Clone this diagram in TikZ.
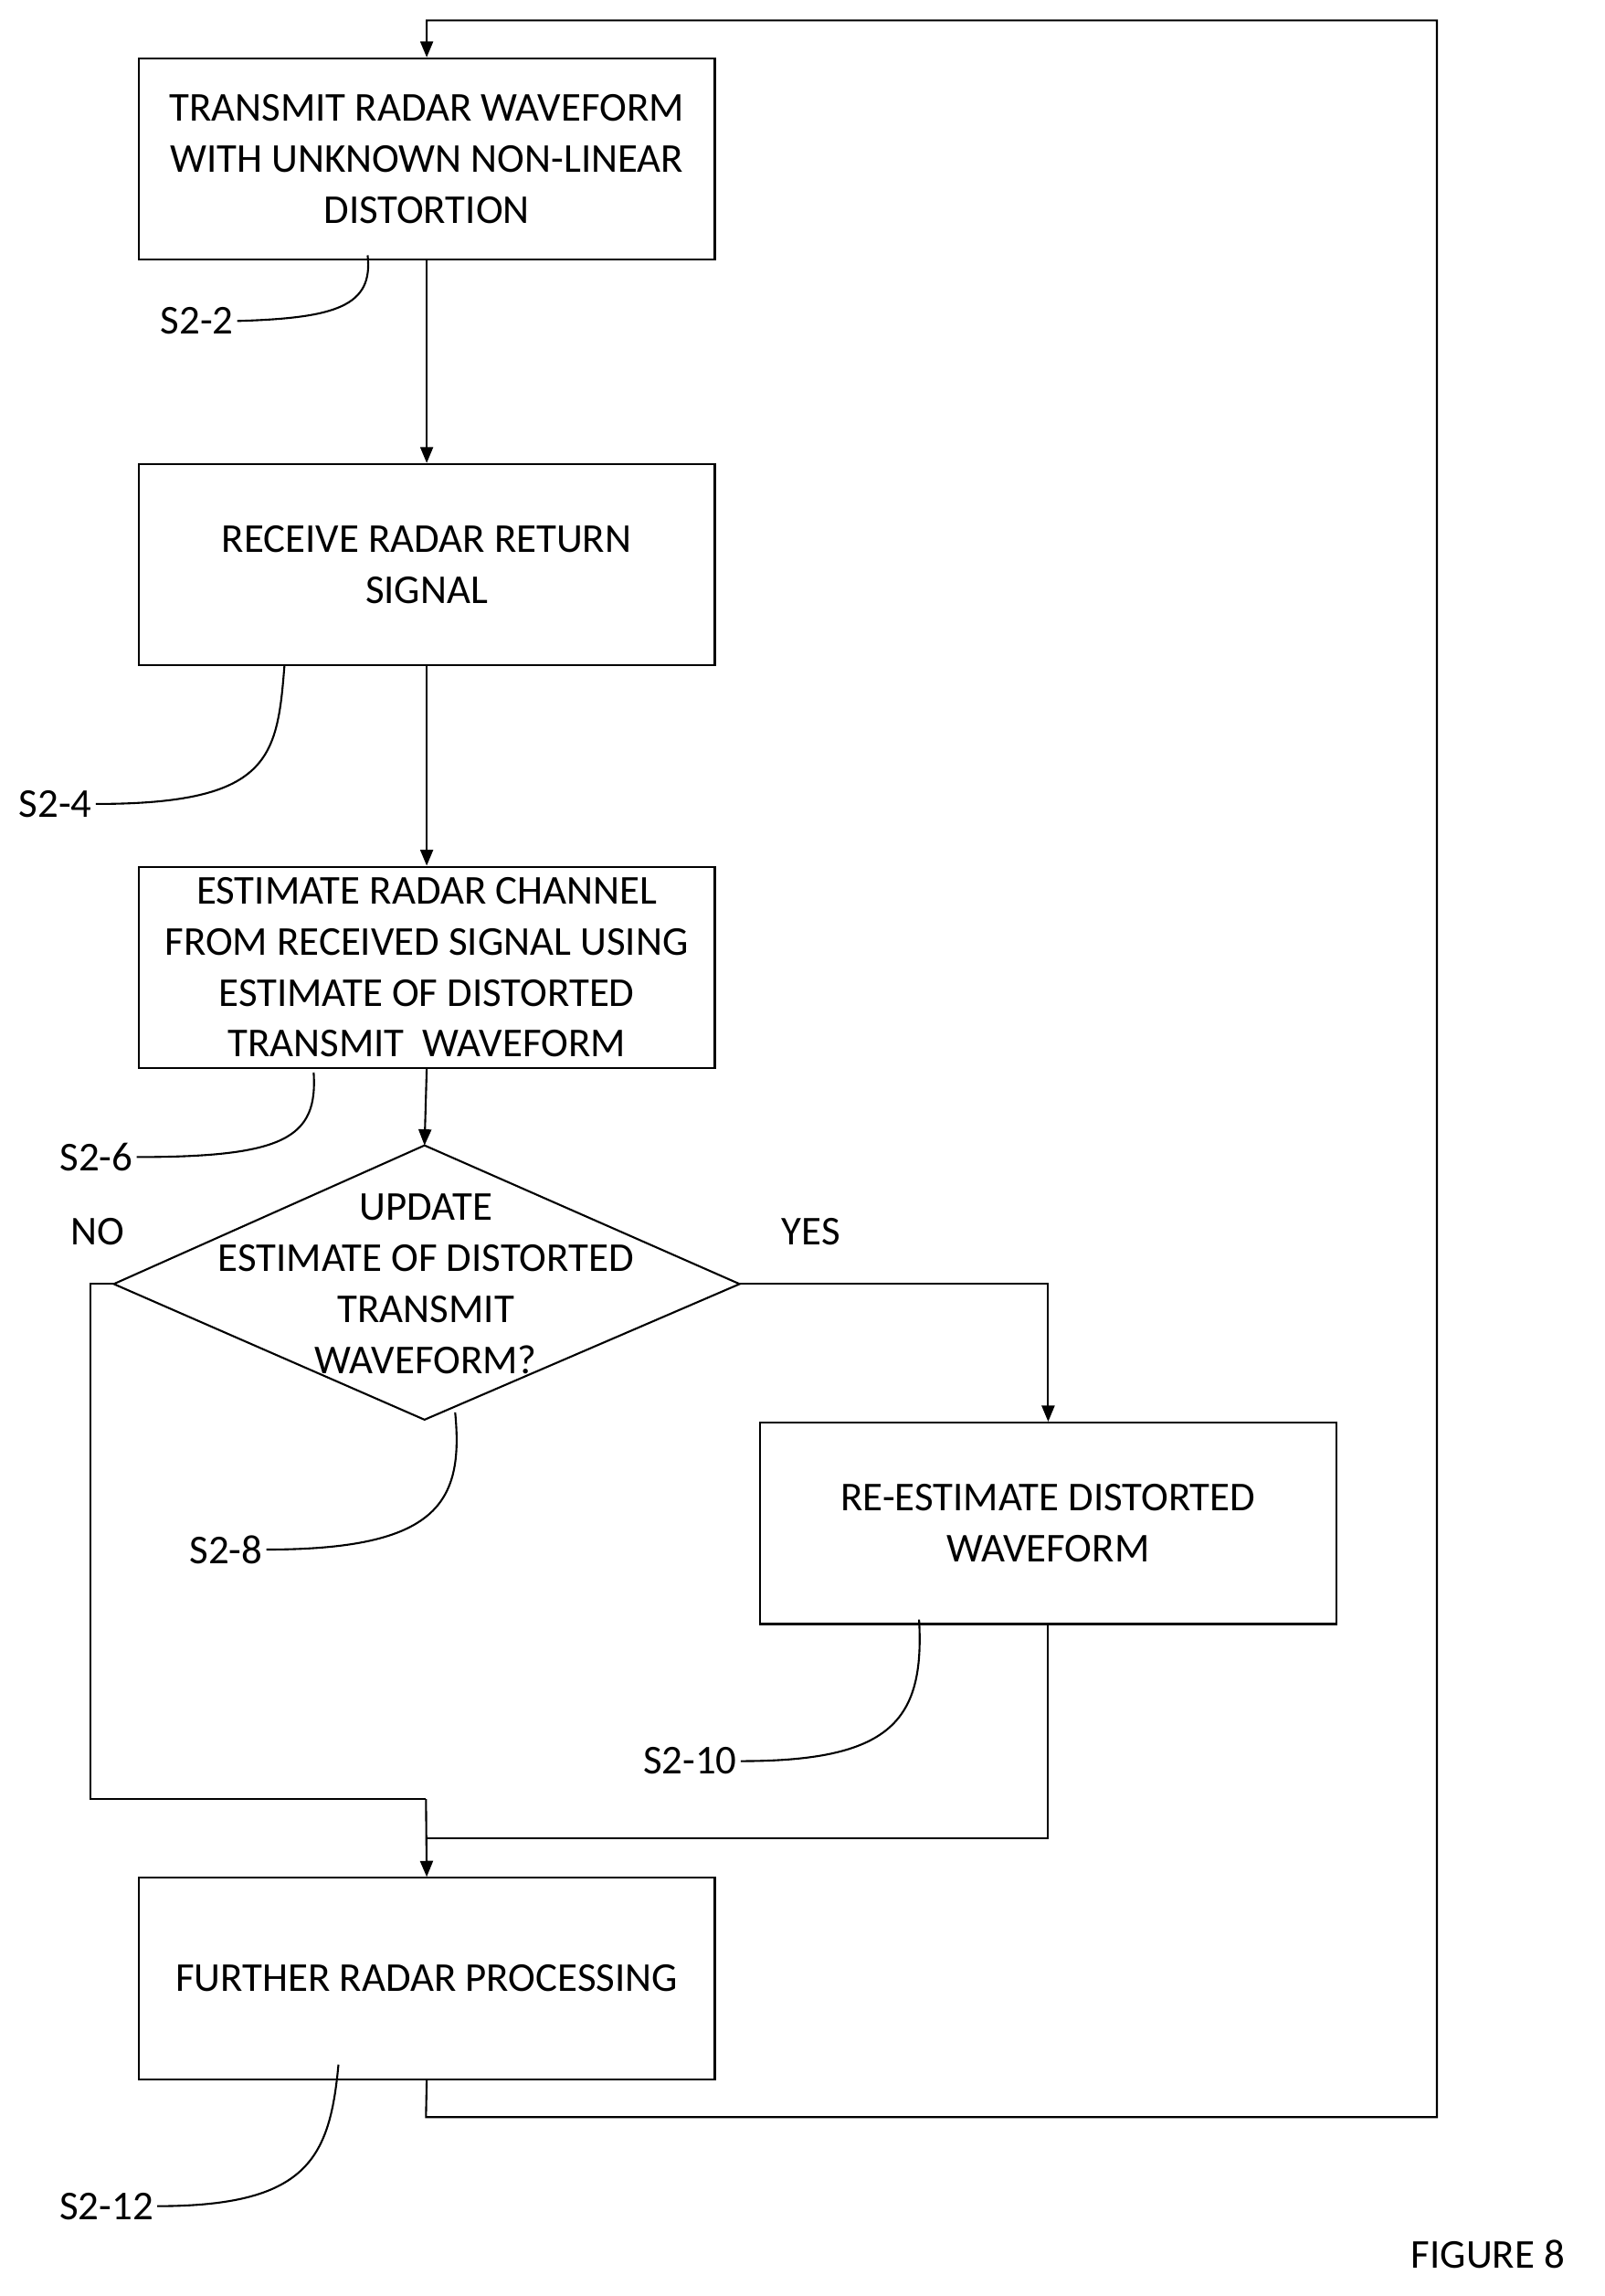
\documentclass[tikz,border=0pt]{standalone}
\usepackage{fontspec}
\setmainfont{Carlito}
\usetikzlibrary{shapes.geometric,arrows.meta}
\begin{document}
\begin{tikzpicture}[x=0.016cm,y=-0.016cm,
  every node/.style={font=\fontsize{12.8}{15.9}\selectfont},
  box/.style={draw,line width=0.6pt,minimum width=395*0.016cm,minimum height=138*0.016cm,align=center,inner sep=0},
  lab/.style={inner sep=1pt},
  ln/.style={line width=0.6pt},
  arr/.style={ln,-{Triangle[length=5pt,width=4pt]}}]
\useasboundingbox (0,0) rectangle (1100,1573.6);
\node[box] (b1) at (292.5,109) {TRANSMIT RADAR WAVEFORM\\WITH UNKNOWN NON-LINEAR\\DISTORTION};
\node[box] (b2) at (292.5,387) {RECEIVE RADAR RETURN\\SIGNAL};
\node[box] (b3) at (292.5,663) {ESTIMATE RADAR CHANNEL\\FROM RECEIVED SIGNAL USING\\ESTIMATE OF DISTORTED\\TRANSMIT\ \ WAVEFORM};
\coordinate (dt) at (291,785); \coordinate (dr) at (507,880);
\coordinate (db) at (291,973); \coordinate (dl) at (78,880);
\draw[ln] (dt) -- (dr) -- (db) -- (dl) -- cycle;
\node[align=center] (d) at (292,880) {UPDATE\\ESTIMATE OF DISTORTED\\TRANSMIT\\WAVEFORM?};
\node[box] (b4) at (718.5,1044) {RE-ESTIMATE DISTORTED\\WAVEFORM};
\node[box] (b5) at (292.5,1356) {FURTHER RADAR PROCESSING};
\node (no) at (67,844) {NO};
\node (yes) at (556,844) {YES};
\node (fig) at (1020,1545) {FIGURE 8};
\draw[arr] (b1.south) -- (b2.north);
\draw[arr] (b2.south) -- (b3.north);
\draw[arr] (b3.south) -- (dt);
\draw[arr] (dr) -| (b4.north);
\coordinate (j1) at (292,1233); \coordinate (j2) at (292,1260);
\draw[ln] (dl) -- (62,880) |- (j1);
\draw[ln] (b4.south) |- (j2);
\draw[arr] (j1) -- (b5.north);
\draw[arr] (b5.south) -- (292,1451) -| (985,14) -| (b1.north);
\node[lab] (s2) at (135,220) {S2-2};
\node[lab] (s4) at (38,551) {S2-4};
\node[lab] (s6) at (66,793) {S2-6};
\node[lab] (s8) at (155,1062) {S2-8};
\node[lab] (s10) at (473,1207) {S2-10};
\node[lab] (s12) at (73,1512) {S2-12};
\draw[ln] (252,175) .. controls (256,210) and (230,218) .. (s2.east);
\draw[ln] (195,456) .. controls (190,520) and (185,551) .. (s4.east);
\draw[ln] (215,735) .. controls (218,780) and (195,793) .. (s6.east);
\draw[ln] (312,968) .. controls (318,1030) and (300,1062) .. (s8.east);
\draw[ln] (630,1110) .. controls (634,1180) and (610,1207) .. (s10.east);
\draw[ln] (232,1415) .. controls (226,1480) and (210,1512) .. (s12.east);
\end{tikzpicture}
\end{document}
